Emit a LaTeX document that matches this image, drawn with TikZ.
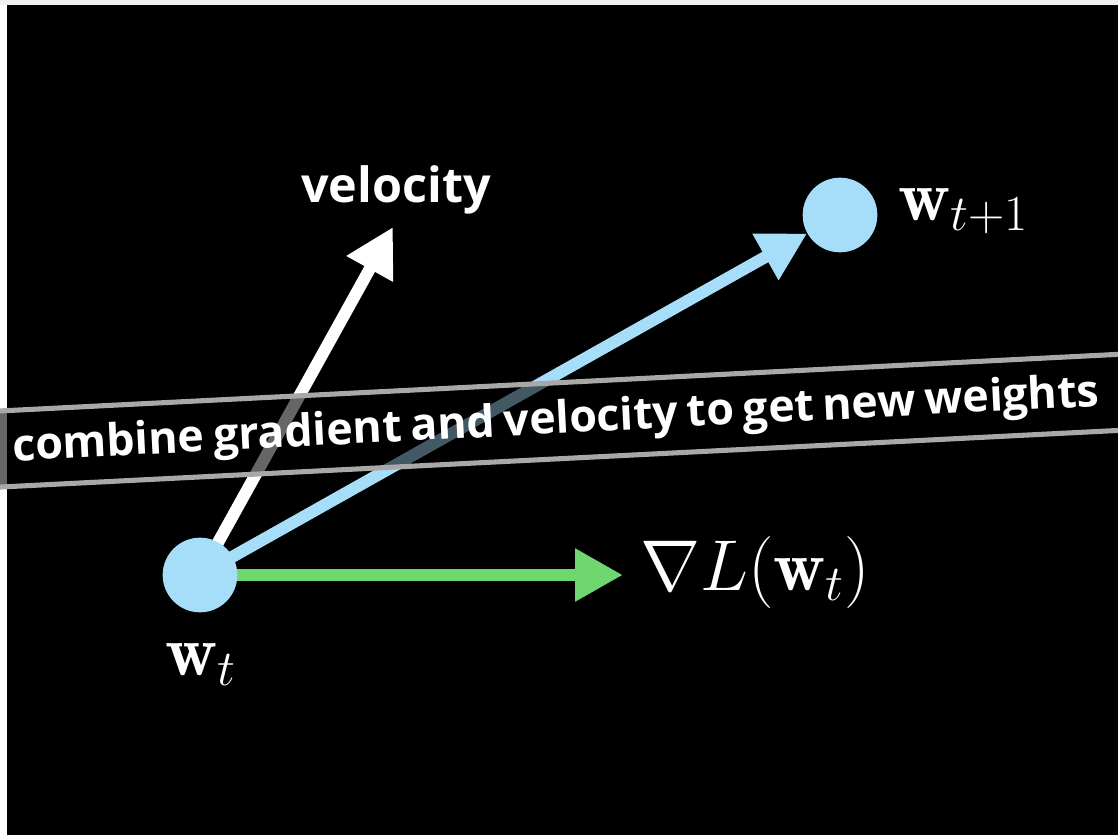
\documentclass[tikz,border=0pt]{standalone}
\usepackage{fix-cm}
\usepackage{fontspec}
\newfontfamily\wordfont{Open Sans}
\newcommand\bannerfont{\wordfont\bfseries\fontsize{33.5}{40}\selectfont\spaceskip 0.2em\relax}
\usetikzlibrary{arrows.meta, positioning}
\definecolor{weightblue}{RGB}{166,222,249}
\definecolor{gradgreen}{RGB}{112,214,112}
\definecolor{stripegray}{RGB}{168,168,168}
\pgfdeclarelayer{frame}
\pgfdeclarelayer{back}
\pgfsetlayers{frame,back,main}

\tikzset{
  dot/.style={circle, fill=weightblue, minimum size=56pt, inner sep=0pt},
  vec/.style={line width=9pt, -{Triangle[length=36pt,width=37.5pt]}},
  mathlbl/.style={text=white, inner sep=0pt, font=\fontsize{54}{60}\selectfont},
  wordlbl/.style={text=white, inner sep=0pt, font=\wordfont\bfseries\fontsize{36.4}{44}\selectfont},
  bannerlbl/.style={wordlbl, font=\bannerfont},
}

\begin{document}
\begin{tikzpicture}[x=0.75pt, y=-0.75pt]
  % Frame
  \begin{pgfonlayer}{frame}
    \fill[white] (0,0) rectangle (1118,835);
    \fill[black!6] (0,0) rectangle (1118,5);
    \fill[black] (7,5) rectangle (1118,835);
  \end{pgfonlayer}
  \useasboundingbox (0,0) rectangle (1118,835);
  % Weights
  \node[dot] (wt) at (200,575) {};
  \node[dot] (wtnext) at (840,215) {};
  \coordinate (veltip) at (393,227);
  \coordinate (gradtip) at (623,575);
  % Labels
  \node[wordlbl, anchor=base] (vellbl) at (396,202) {velocity};
  \node[mathlbl, anchor=base west] (wtlbl) at (165,675) {$\mathbf{w}_t$};
  \node[mathlbl, anchor=base west] (wtnextlbl) at (898,220) {$\mathbf{w}_{t+1}$};
  \node[mathlbl, anchor=base west] (gradlbl) at (640,590) {$\nabla L(\mathbf{w}_t)$};
  % Vectors
  \begin{pgfonlayer}{back}
    \draw[vec, white] (wt.center) -- (veltip);
    \draw[vec, weightblue] (wt.center) -- (wtnext);
    \draw[vec, gradgreen] (wt.center) -- (gradtip);
  \end{pgfonlayer}
  % Banner
  \begin{scope}[shift={(563,420.5)}, rotate=2.9]
    \fill[black, opacity=0.6] (-700,-38) rectangle (700,38);
    \draw[stripegray, line width=3.8pt] (-700,-38) -- (700,-38) (-700,38) -- (700,38);
  \end{scope}
  \node[bannerlbl, rotate=2.9] (banner) at (556,422) {combine gradient and velocity to get new weights};
\end{tikzpicture}
\end{document}
